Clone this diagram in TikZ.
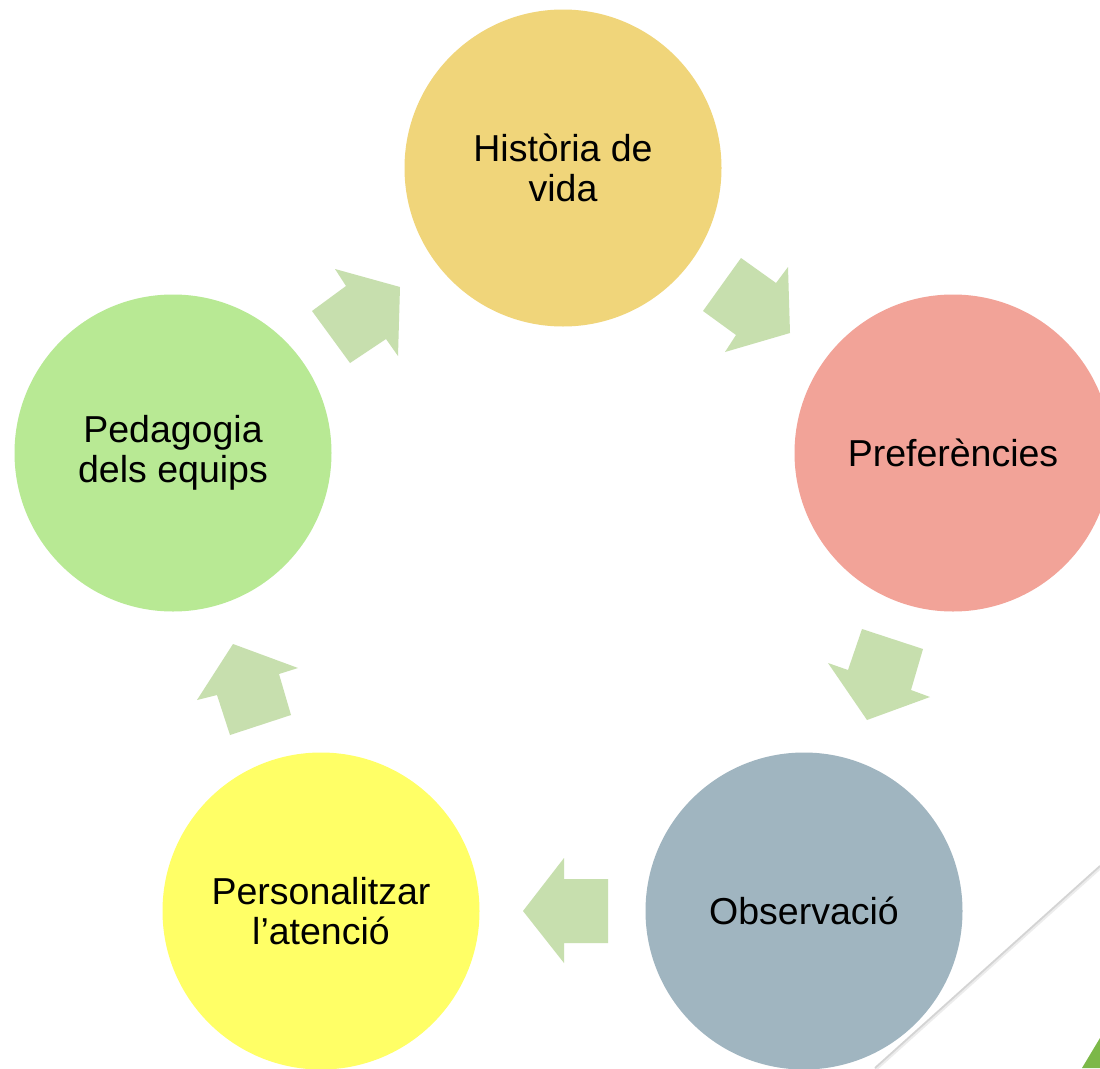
\documentclass[tikz,border=0pt]{standalone}
\usepackage{fontspec}
\setmainfont{Liberation Sans}
\definecolor{cTop}{RGB}{240,213,122}
\definecolor{cRight}{RGB}{242,163,152}
\definecolor{cObs}{RGB}{160,181,192}
\definecolor{cPers}{RGB}{255,255,102}
\definecolor{cPed}{RGB}{184,233,148}
\definecolor{cArrow}{RGB}{199,223,174}
\definecolor{cLine}{RGB}{212,212,212}
\definecolor{cShadow}{RGB}{236,236,236}
\definecolor{cTri}{RGB}{124,184,72}
\tikzset{
  stage/.style={circle, minimum size=317pt, inner sep=0pt, draw=none, align=center,
    font=\fontsize{37.5}{39.5}\selectfont, text=black},
  blockarrow/.style={fill=cArrow, draw=none}
}
\begin{document}
\begin{tikzpicture}[x=1pt,y=-1pt]
\useasboundingbox (0,0) rectangle (1100,1068);
\clip (0,0) rectangle (1100,1068);
\fill[white] (0,0) rectangle (1100,1068);

% decoration bottom right
\draw[cShadow, line width=3pt] (1100.5,867.5) -- (875.5,1069.5);
\draw[cLine, line width=1.8pt] (1100,866) -- (875,1068);
\fill[cTri] (1082,1068) -- (1100,1038) -- (1100,1068) -- cycle;

% circles
\node[stage, fill=cTop]   (hist) at (563,168) {Història de\\vida};
\node[stage, fill=cRight] (pref) at (953,453) {Preferències};
\node[stage, fill=cObs]   (obs)  at (804,911) {Observació};
\node[stage, fill=cPers]  (pers) at (321,911) {Personalitzar\\l’atenció};
\node[stage, fill=cPed]   (ped)  at (173,453) {Pedagogia\\dels equips};

% block arrows
\fill[blockarrow] (312,311) -- (346,286) -- (335,269) -- (400,287) -- (398,356) -- (386,339) -- (350,363) -- cycle;
\fill[blockarrow] (741,258) -- (776,283) -- (788,267) -- (790,333) -- (725,352) -- (736,335) -- (703,311) -- cycle;
\fill[blockarrow] (862,629) -- (923,649) -- (911,690) -- (930,697) -- (867,720) -- (828,663) -- (848,670) -- cycle;
\fill[blockarrow] (608,879) -- (564,879) -- (564,858) -- (523,911) -- (564,963) -- (564,943) -- (608,943) -- cycle;
\fill[blockarrow] (291,715) -- (279,674) -- (298,668) -- (233,644) -- (197,700) -- (217,695) -- (230,735) -- cycle;
\end{tikzpicture}
\end{document}
